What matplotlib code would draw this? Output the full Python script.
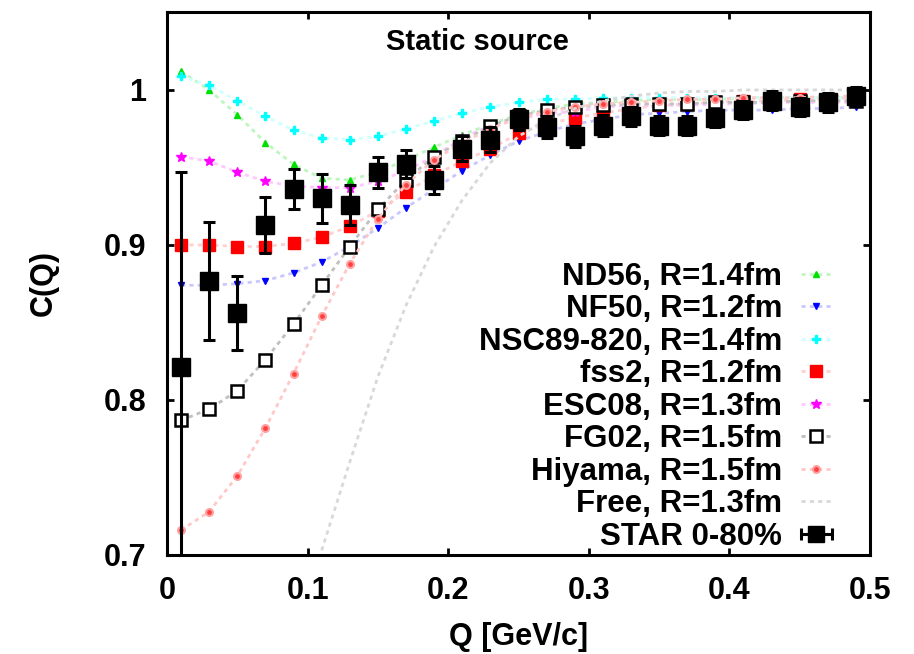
import numpy as np
import matplotlib
matplotlib.use("Agg")
import matplotlib.pyplot as plt
from matplotlib.ticker import FormatStrFormatter

plt.rcParams['font.family'] = ['Liberation Sans', 'DejaVu Sans']
plt.rcParams['font.weight'] = 'bold'
plt.rcParams['font.size'] = 22

# Q points of all curves
q = [0.01, 0.03, 0.05, 0.07, 0.09, 0.11, 0.13, 0.15, 0.17, 0.19, 0.21, 0.23, 0.25,
     0.27, 0.29, 0.31, 0.33, 0.35, 0.37, 0.39, 0.41, 0.43, 0.45, 0.47, 0.49]

nd56 = [1.012, 1.000, 0.984, 0.966, 0.952, 0.943, 0.942, 0.947, 0.955, 0.963, 0.971, 0.978, 0.984,
        0.988, 0.991, 0.992, 0.993, 0.994, 0.994, 0.994, 0.995, 0.995, 0.995, 0.995, 0.995]
nf50 = [0.874, 0.874, 0.875, 0.877, 0.882, 0.889, 0.899, 0.911, 0.924, 0.936, 0.948, 0.958, 0.967,
        0.973, 0.978, 0.981, 0.984, 0.985, 0.986, 0.987, 0.987, 0.987, 0.988, 0.988, 0.989]
nsc89 = [1.009, 1.003, 0.993, 0.983, 0.974, 0.969, 0.968, 0.970, 0.975, 0.980, 0.985, 0.989, 0.992,
         0.994, 0.994, 0.995, 0.995, 0.995, 0.995, 0.995, 0.995, 0.995, 0.995, 0.995, 0.995]
fss2 = [0.900, 0.900, 0.899, 0.899, 0.901, 0.905, 0.912, 0.922, 0.934, 0.945, 0.954, 0.962, 0.972,
        0.978, 0.982, 0.985, 0.988, 0.990, 0.991, 0.992, 0.993, 0.993, 0.994, 0.994, 0.995]
esc08 = [0.957, 0.954, 0.947, 0.941, 0.938, 0.937, 0.937, 0.941, 0.948, 0.957, 0.969, 0.977, 0.981,
         0.985, 0.986, 0.989, 0.990, 0.990, 0.990, 0.991, 0.991, 0.992, 0.992, 0.992, 0.992]
fg02 = [0.787, 0.794, 0.806, 0.826, 0.849, 0.874, 0.899, 0.923, 0.942, 0.957, 0.967, 0.977, 0.983,
        0.987, 0.989, 0.990, 0.991, 0.991, 0.991, 0.992, 0.992, 0.992, 0.993, 0.993, 0.993]
hiyama = [0.716, 0.728, 0.751, 0.782, 0.817, 0.854, 0.888, 0.917, 0.939, 0.955, 0.966, 0.975, 0.982,
          0.986, 0.989, 0.991, 0.992, 0.993, 0.994, 0.994, 0.995, 0.995, 0.995, 0.996, 0.996]

q_free = q[5:]
free = [0.703, 0.760, 0.815, 0.861, 0.899, 0.929, 0.953, 0.970, 0.981, 0.988,
        0.993, 0.996, 0.998, 0.999, 0.999, 1.000, 1.000, 1.000, 1.000, 1.000]

star = [0.821, 0.877, 0.856, 0.913, 0.936, 0.930, 0.926, 0.947, 0.952, 0.942, 0.962, 0.968, 0.981,
        0.976, 0.970, 0.977, 0.983, 0.977, 0.977, 0.982, 0.987, 0.993, 0.989, 0.992, 0.996]
star_err = [0.126, 0.038, 0.024, 0.018, 0.013, 0.016, 0.013, 0.010, 0.009, 0.009, 0.008, 0.008, 0.007,
            0.007, 0.007, 0.007, 0.006, 0.006, 0.006, 0.006, 0.006, 0.006, 0.006, 0.006, 0.006]

labels = ["ND56, R=1.4fm", "NF50, R=1.2fm", "NSC89-820, R=1.4fm", "fss2, R=1.2fm",
          "ESC08, R=1.3fm", "FG02, R=1.5fm", "Hiyama, R=1.5fm", "Free, R=1.3fm", "STAR 0-80%"]

fig = plt.figure(figsize=(9.14, 6.54), dpi=100)
ax = fig.add_axes([167/914, 1-555/654, 703/914, 543.5/654])

dash = (0, (1.5, 1.5))
ax.plot(q, nd56, ls=dash, lw=2, color='#c0f5c0', marker='^', ms=5, mfc='#00e000', mec='#00e000', label=labels[0])
ax.plot(q, nf50, ls=dash, lw=2, color='#c8c8ff', marker='v', ms=5, mfc='#0000ff', mec='#0000ff', label=labels[1])
ax.plot(q, nsc89, ls=dash, lw=2, color='#d0ffff', marker='P', ms=6, mfc='#00ffff', mec='#00ffff', label=labels[2])
ax.plot(q, fss2, ls=dash, lw=2, color='#ffd0d0', marker='s', ms=8.5, mfc='#ff0000', mec='#ff0000', label=labels[3])
ax.plot(q, esc08, ls=dash, lw=2, color='#ffc8ff', marker='*', ms=7, mfc='#ff00ff', mec='#ff00ff', label=labels[4])
ax.plot(q, fg02, ls=dash, lw=2, color='#c0c0c0', marker='s', ms=8, mfc='white', mec='black', mew=1.8, label=labels[5])
ax.plot(q, hiyama, ls=dash, lw=2, color='#ffc8c8', marker='o', ms=5, mfc='#ff4040', mec='#ffa0a0', mew=1.5, label=labels[6])
ax.plot(q_free, free, ls=dash, lw=2, color='#d8d8d8', label=labels[7])
ax.errorbar(q, star, yerr=star_err, fmt='s', ms=13.5, color='black', ecolor='black',
            elinewidth=2.2, capsize=4, capthick=2.2)
# legend proxy with a horizontal error bar, as in the original key
proxy = ax.errorbar([np.nan], [np.nan], xerr=[1], fmt='s', ms=11, color='black',
                    elinewidth=2.2, capsize=4, capthick=2.2, label=labels[8])

ax.set_xlim(0, 0.5)
ax.set_ylim(0.7, 1.0506)
ax.set_xticks([0, 0.1, 0.2, 0.3, 0.4, 0.5])
ax.set_yticks([0.7, 0.8, 0.9, 1.0])
ax.xaxis.set_major_formatter(FormatStrFormatter('%g'))
ax.yaxis.set_major_formatter(FormatStrFormatter('%g'))
ax.tick_params(direction='in', top=True, right=True, length=5, width=2, pad=15, labelsize=22)
for s in ax.spines.values():
    s.set_linewidth(2.2)

ax.set_xlabel("Q [GeV/c]", fontsize=22, fontweight='bold', labelpad=12)
ax.set_ylabel("C(Q)", fontsize=22, fontweight='bold', labelpad=32)
ax.text(0.442, 0.944, "Static source", transform=ax.transAxes, ha='center', va='center',
        fontsize=21, fontweight='bold')

leg = ax.legend(loc='lower right', bbox_to_anchor=(0.946, 0.006), markerfirst=False, frameon=False,
                fontsize=22.5, handlelength=1.0, handletextpad=0.6, labelspacing=0.08,
                borderpad=0, borderaxespad=0)

fig.savefig("out.png", dpi=100)
